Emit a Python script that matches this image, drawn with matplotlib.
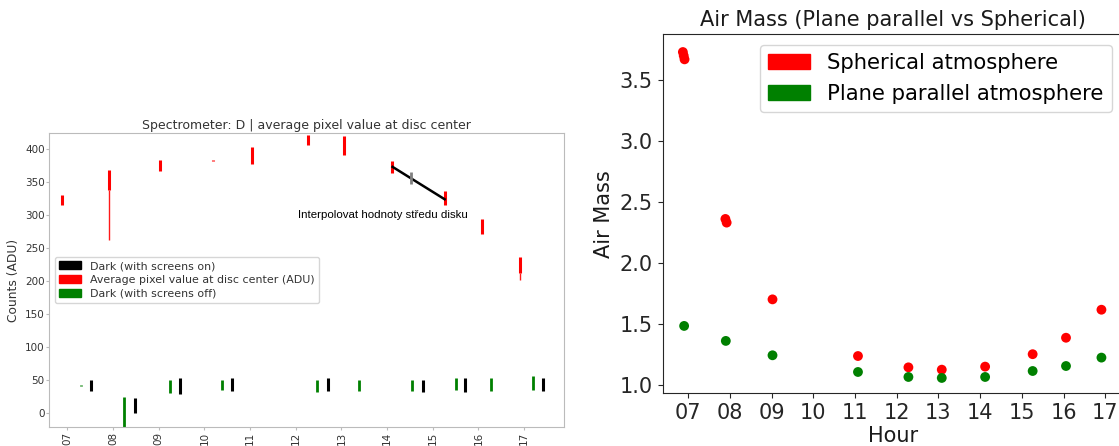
import matplotlib
matplotlib.use('Agg')
import matplotlib.pyplot as plt
from matplotlib.patches import Patch

# ---------------- Left panel data ----------------
hour_ticks = list(range(7, 18))
hour_labels = [f"{h:02d}" for h in hour_ticks]

disc_t = [6.89, 7.91, 9.02, 10.18, 11.05, 12.26, 13.06, 14.11, 15.26, 16.07, 16.91]
disc_lo = [316, 338, 366, 382, 378, 406, 391, 364, 315, 272, 213]
disc_hi = [331, 368, 384, 384, 403, 421, 419, 382, 336, 294, 237]
disc_tail_t = [7.91, 16.91]
disc_tail_lo = [262, 202]
disc_tail_hi = [338, 213]

dark_on_t = [7.52, 8.48, 9.47, 10.60, 12.70, 14.79, 15.71, 17.42]
dark_on_lo = [33, 1, 29, 34, 34, 32, 32, 34]
dark_on_hi = [50, 23, 53, 54, 53, 51, 53, 53]

dark_off_t = [7.31, 8.25, 9.25, 10.38, 12.46, 13.39, 14.54, 15.52, 16.28, 17.20]
dark_off_lo = [41, -21, 31, 35, 32, 34, 34, 35, 34, 35]
dark_off_hi = [43, 24, 51, 50, 51, 51, 51, 54, 54, 56]

interp_t = [14.12, 15.26]
interp_v = [373, 324]
interp_mid_t = [14.52]
interp_mid_v = [355.6]

# ---------------- Right panel data ----------------
sph_t = [6.87, 6.89, 6.91, 7.89, 7.92, 9.02, 11.07, 12.28, 13.08, 14.12, 15.26, 16.06, 16.91]
sph_v = [3.73, 3.70, 3.67, 2.36, 2.33, 1.70, 1.235, 1.142, 1.123, 1.148, 1.25, 1.385, 1.615]
pp_t = [6.90, 7.90, 9.02, 11.07, 12.28, 13.08, 14.12, 15.26, 16.06, 16.91]
pp_v = [1.482, 1.359, 1.241, 1.104, 1.063, 1.055, 1.063, 1.112, 1.153, 1.222]

W, H = 1119, 446
fig = plt.figure(figsize=(W / 100, H / 100), dpi=100)

# ================= Left axes =================
axL = fig.add_axes([49.3 / W, (H - 426.7) / H, 515 / W, 293.4 / H])
axL.vlines(disc_t, disc_lo, disc_hi, color='red', lw=2.2)
axL.vlines(disc_tail_t, disc_tail_lo, disc_tail_hi, color='red', lw=1.0, alpha=0.9)
axL.vlines(dark_on_t, dark_on_lo, dark_on_hi, color='black', lw=2.2)
axL.vlines(dark_off_t, dark_off_lo, dark_off_hi, color='green', lw=2.0)
axL.plot(interp_t, interp_v, color='black', lw=1.8)
axL.plot(interp_mid_t, interp_mid_v, marker='|', ms=8, mew=2, color='grey', ls='none')
axL.text(12.04, 300, "Interpolovat hodnoty středu disku", family='Liberation Sans',
         fontsize=8.25, va='center', ha='left', color='black')
axL.set_xlim(6.606, 17.88)
axL.set_ylim(-20.3, 423.8)
axL.set_xticks(hour_ticks)
axL.set_xticklabels(hour_labels, rotation=90)
axL.set_yticks(range(0, 401, 50))
axL.tick_params(labelsize=7.5, colors='#bbbbbb', labelcolor='#333333', length=2.2, pad=1.2)
for s in axL.spines.values():
    s.set_color('#bbbbbb')
axL.set_title("Spectrometer: D | average pixel value at disc center", fontsize=9,
              color='#333333', pad=3)
axL.set_ylabel("Counts (ADU)", fontsize=8.8, color='#333333', labelpad=3.5)
handlesL = [Patch(color='black', label='Dark (with screens on)'),
            Patch(color='red', label='Average pixel value at disc center (ADU)'),
            Patch(color='green', label='Dark (with screens off)')]
legL = axL.legend(handles=handlesL, loc='center left', fontsize=7.9, frameon=True,
                  labelspacing=0.35)
for t in legL.get_texts():
    t.set_color('#333333')

# ================= Right axes =================
axR = fig.add_axes([662.7 / W, (H - 393.3) / H, 460 / W, 359.3 / H])
axR.scatter(sph_t, sph_v, color='red', s=50, edgecolors='none')
axR.scatter(pp_t, pp_v, color='green', s=50, edgecolors='none')
axR.set_xlim(6.386, 17.42)
axR.set_ylim(0.929, 3.878)
axR.set_xticks(hour_ticks)
axR.set_xticklabels(hour_labels)
axR.set_yticks([1.0, 1.5, 2.0, 2.5, 3.0, 3.5])
axR.tick_params(labelsize=15, colors='#262626')
for s in axR.spines.values():
    s.set_color('#262626')
axR.set_title("Air Mass (Plane parallel vs Spherical)", fontsize=15, color='#1a1a1a')
axR.set_xlabel("Hour", fontsize=15, labelpad=2, color='#1a1a1a')
axR.set_ylabel("Air Mass", fontsize=15, color='#1a1a1a')
handlesR = [Patch(color='red', label='Spherical atmosphere'),
            Patch(color='green', label='Plane parallel atmosphere')]
axR.legend(handles=handlesR, loc='upper right', fontsize=15.2)

fig.savefig('out.png', dpi=100)
